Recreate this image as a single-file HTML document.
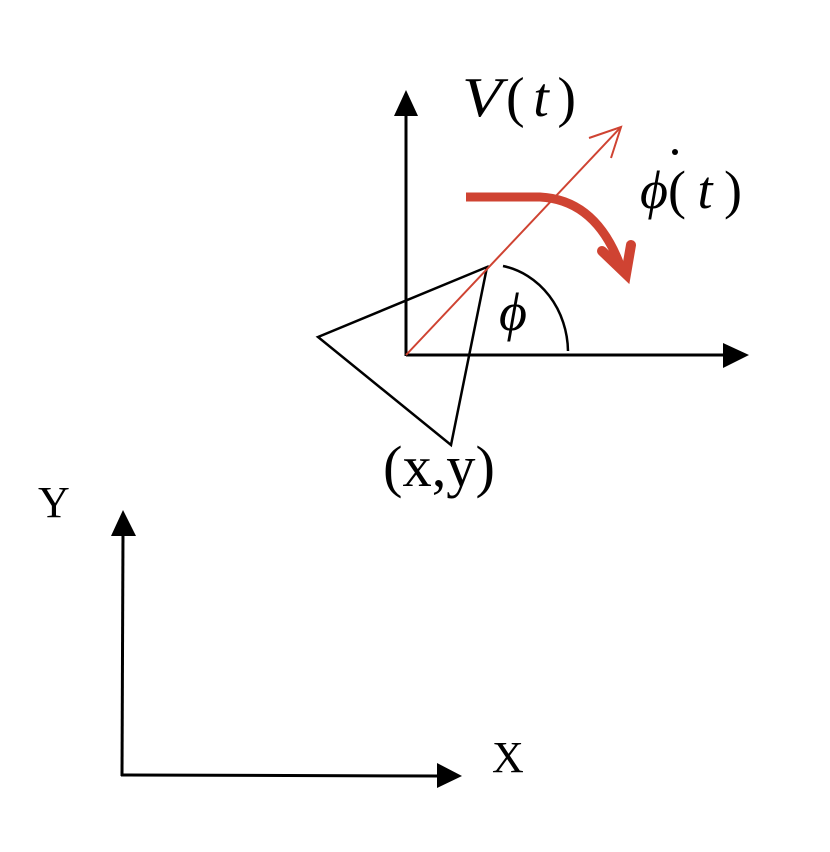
<!DOCTYPE html>
<html><head><style>html,body{margin:0;padding:0;background:#fff;}svg{display:block}</style></head>
<body>
<svg width="830" height="852" viewBox="0 0 830 852" xmlns="http://www.w3.org/2000/svg">
<g stroke="#000" stroke-width="3" fill="none">
<line x1="406" y1="356" x2="406" y2="112"/>
<line x1="406" y1="355" x2="728" y2="355"/>
<polygon points="318,337 487,267 451,445" stroke-width="2.5"/>
<path d="M503,266 A80,88 0 0 1 568,351" stroke-width="2.5"/>
<line x1="122" y1="776" x2="123" y2="532"/>
<line x1="121" y1="775" x2="440" y2="776"/>
</g>
<g fill="#000">
<polygon points="406,90 394,116 418,116"/>
<polygon points="749,355 723,343 723,368"/>
<polygon points="123,510 111,536 136,536"/>
<polygon points="462,776 437,763 437,788"/>
</g>
<g stroke="#cf4332" fill="none">
<line x1="406" y1="355" x2="621" y2="127" stroke-width="2"/>
<polyline points="589,138 621,127 611,158" stroke-width="2"/>
<path d="M466,197 L540,197 C580,199 605,225 620,265" stroke-width="9"/>
</g>
<path d="M602,251 L626,274 L631,245" fill="none" stroke="#cf4332" stroke-width="10" stroke-linejoin="miter" stroke-linecap="round"/>
<g font-family="'Liberation Serif', serif" fill="#000">
<text x="462" y="116" font-size="56" font-style="italic" textLength="40" lengthAdjust="spacingAndGlyphs">V</text>
<text x="506" y="116" font-size="56" textLength="70" lengthAdjust="spacing">(<tspan font-style="italic">t</tspan>)</text>
<text x="640" y="208" font-size="54" font-style="italic">ϕ</text>
<text x="668" y="208" font-size="54" textLength="74" lengthAdjust="spacing">(<tspan font-style="italic">t</tspan>)</text>
<circle cx="675" cy="152" r="3"/>
<text x="499" y="330" font-size="54" font-style="italic">ϕ</text>
<text x="383" y="486" font-size="58" textLength="112" lengthAdjust="spacingAndGlyphs">(x,y)</text>
<text x="38" y="517" font-size="44">Y</text>
<text x="492" y="772" font-size="44">X</text>
</g>
</svg>
</body></html>
